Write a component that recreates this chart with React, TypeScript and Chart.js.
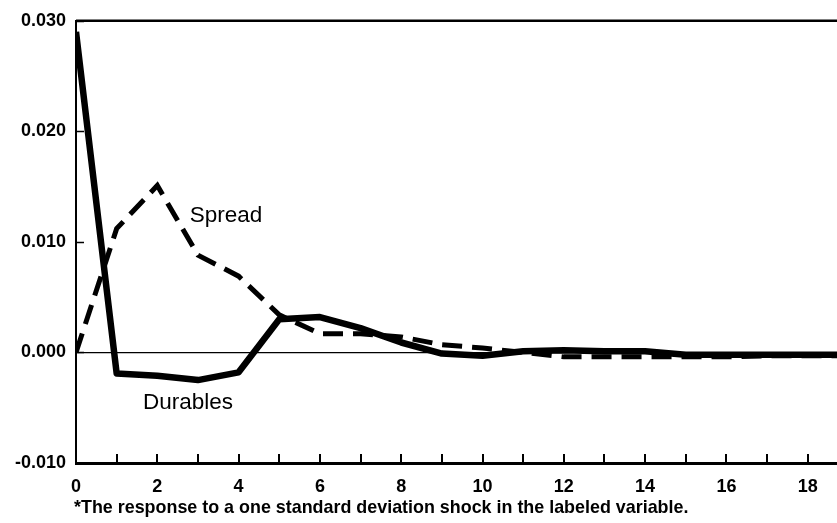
import React, { useEffect, useRef } from "react";
import { Chart, registerables } from "chart.js";

Chart.register(...registerables);

const steps = [0, 1, 2, 3, 4, 5, 6, 7, 8, 9, 10, 11, 12, 13, 14, 15, 16, 17, 18, 19];
const durables = [0.029, -0.0019, -0.0021, -0.0025, -0.0018, 0.003, 0.0032, 0.0022, 0.0009, -0.0001, -0.0003, 0.0001, 0.0002, 0.0001, 0.0001, -0.0002, -0.0002, -0.0002, -0.0002, -0.0002];
const spread = [0.0, 0.0112, 0.0151, 0.0088, 0.0069, 0.0034, 0.0017, 0.0017, 0.0014, 0.0007, 0.0004, 0.0, -0.0004, -0.0004, -0.0004, -0.0004, -0.0004, -0.0003, -0.0003, -0.0003];
const yTicks = [-0.01, 0.0, 0.01, 0.02, 0.03];
const xLabelSteps = [0, 2, 4, 6, 8, 10, 12, 14, 16, 18];
const seriesLabels = [
  { text: "Spread", x: 2.8, y: 0.0118 },
  { text: "Durables", x: 1.65, y: -0.00515 },
];
const footnote = "*The response to a one standard deviation shock in the labeled variable.";

const decor = {
  id: "decor",
  afterDraw(chart: any) {
    const { ctx, chartArea } = chart;
    const x = chart.scales.x;
    const y = chart.scales.y;
    ctx.save();
    ctx.strokeStyle = "#000";
    ctx.fillStyle = "#000";
    // top frame line
    ctx.lineWidth = 2.5;
    ctx.beginPath();
    ctx.moveTo(chartArea.left, chartArea.top);
    ctx.lineTo(chartArea.right, chartArea.top);
    ctx.stroke();
    // inward tick marks on x axis
    ctx.lineWidth = 2;
    ctx.beginPath();
    x.ticks.forEach((t: any) => {
      if (t.value <= 0) return;
      const px = Math.round(x.getPixelForValue(t.value));
      ctx.moveTo(px, chartArea.bottom);
      ctx.lineTo(px, chartArea.bottom - 9);
    });
    ctx.stroke();
    // inward tick marks on y axis
    ctx.lineWidth = 1.5;
    ctx.beginPath();
    y.ticks.forEach((t: any) => {
      const py = Math.round(y.getPixelForValue(t.value)) + 0.5;
      ctx.moveTo(chartArea.left, py);
      ctx.lineTo(chartArea.left + 8, py);
    });
    ctx.stroke();
    // series labels
    ctx.font = '22.5px "Liberation Sans", Arial, sans-serif';
    ctx.textAlign = "left";
    ctx.textBaseline = "alphabetic";
    seriesLabels.forEach((l) => {
      ctx.fillText(l.text, x.getPixelForValue(l.x), y.getPixelForValue(l.y));
    });
    // footnote
    ctx.font = 'bold 17.9px "Liberation Sans", Arial, sans-serif';
    ctx.fillText(footnote, chartArea.left - 2, 513);
    ctx.restore();
  },
};

export default function App() {
  const ref = useRef<HTMLCanvasElement>(null);
  useEffect(() => {
    document.body.style.margin = "0";
    const canvas = ref.current!;
    const chart = new Chart(canvas, {
      type: "line",
      data: {
        datasets: [
          {
            label: "Durables",
            data: steps.map((s, i) => ({ x: s, y: durables[i] })),
            borderColor: "#000",
            borderWidth: 6.5,
            pointRadius: 0,
            tension: 0,
            borderJoinStyle: "round",
          },
          {
            label: "Spread",
            data: steps.map((s, i) => ({ x: s, y: spread[i] })),
            borderColor: "#000",
            borderWidth: 5,
            borderDash: [20, 10],
            borderCapStyle: "butt",
            pointRadius: 0,
            tension: 0,
          },
        ],
      },
      options: {
        responsive: false,
        animation: false,
        layout: { padding: { top: 19, right: 0, left: 0, bottom: 0 } },
        plugins: { legend: { display: false }, tooltip: { enabled: false } },
        scales: {
          x: {
            type: "linear",
            min: 0,
            max: 18.72,
            afterFit: (s: any) => {
              s.height = 60;
            },
            ticks: {
              stepSize: 1,
              includeBounds: false,
              autoSkip: false,
              maxRotation: 0,
              padding: 5,
              color: "#000",
              font: { family: '"Liberation Sans", Arial, sans-serif', size: 18, weight: "bold" },
              callback: (v: any) => (xLabelSteps.includes(Number(v)) ? String(v) : ""),
            },
            grid: { display: false },
            border: { display: true, color: "#000", width: 3 },
          },
          y: {
            type: "linear",
            min: -0.01,
            max: 0.03,
            afterFit: (s: any) => {
              s.width = 76;
            },
            afterBuildTicks: (s: any) => {
              s.ticks = yTicks.map((v) => ({ value: v }));
            },
            ticks: {
              padding: 10,
              color: "#000",
              font: { family: '"Liberation Sans", Arial, sans-serif', size: 18, weight: "bold" },
              callback: (v: any) => Number(v).toFixed(3),
            },
            grid: {
              drawTicks: false,
              color: (c: any) => (c.tick && Math.abs(c.tick.value) < 1e-9 ? "#000" : "rgba(0,0,0,0)"),
              lineWidth: 1.2,
            },
            border: { display: true, color: "#000", width: 2 },
          },
        },
      },
      plugins: [decor],
    });
    return () => chart.destroy();
  }, []);
  return (
    <div style={{ width: 837, height: 523 }}>
      <canvas ref={ref} width={837} height={523} style={{ display: "block" }} />
    </div>
  );
}
